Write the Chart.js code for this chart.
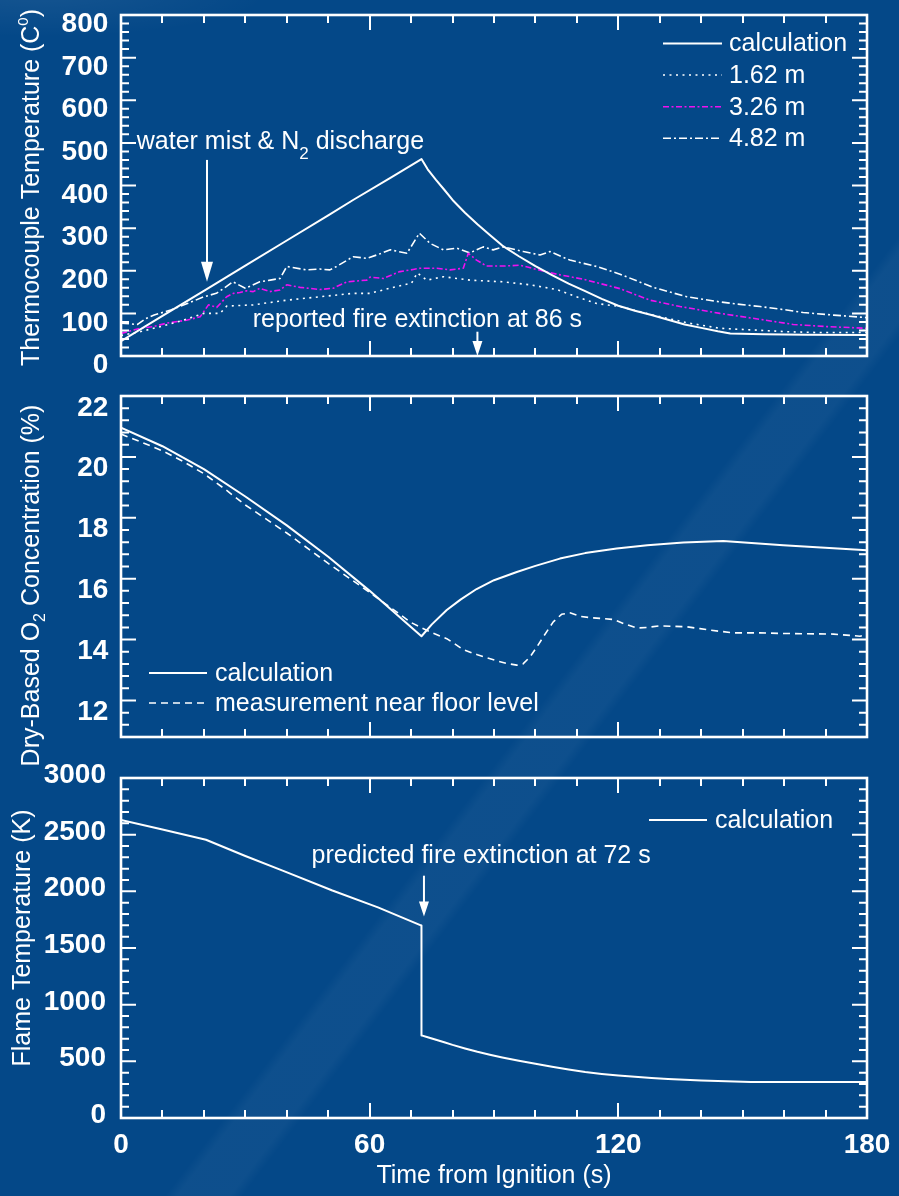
<!DOCTYPE html>
<html><head><meta charset="utf-8">
<script src="https://cdn.jsdelivr.net/npm/chart.js@4.4.1/dist/chart.umd.min.js"></script>
<style>
html,body{margin:0;padding:0;}
body{width:899px;height:1196px;overflow:hidden;position:relative;
background:
 radial-gradient(ellipse 230px 45px at 40px -8px, rgba(255,255,255,0.07), rgba(255,255,255,0) 100%),
 linear-gradient(127.4deg, rgba(255,255,255,0) 0%, rgba(255,255,255,0) 59.5%, rgba(255,255,255,0.04) 60.2%, rgba(255,255,255,0.04) 63.1%, rgba(255,255,255,0) 63.8%, rgba(255,255,255,0) 100%),
 rgb(4,72,136);}
canvas{position:absolute;left:0;top:0;}
</style></head><body>
<canvas id="c1" width="899" height="1196"></canvas>
<canvas id="c2" width="899" height="1196"></canvas>
<canvas id="c3" width="899" height="1196"></canvas>
<script>
// ---------- data ----------
const X_TICKS = [0, 60, 120, 180];
const TC_TICKS = [0, 100, 200, 300, 400, 500, 600, 700, 800];
const O2_TICKS = [12, 14, 16, 18, 20, 22];
const FT_TICKS = [0, 500, 1000, 1500, 2000, 2500, 3000];

// Panel 1: thermocouple temperature (C)
const tcCalcTime = [0, 10, 20, 30, 40, 50, 56, 65, 72.5, 74, 76, 78, 80, 83, 86, 89, 92, 96, 100, 104, 108, 112, 116, 120, 124, 128, 132, 136, 140, 144, 147, 155, 165, 180];
const tcCalcTemp = [35, 94, 153, 212, 271, 330, 366, 418, 462, 438, 413, 390, 366, 336, 309, 284, 259, 234, 211, 190, 170, 152, 134, 118, 106, 96, 85, 74, 66, 58, 53, 51, 50, 49];

const tc162Time = [0, 5, 10, 15, 20, 23.9, 25.5, 31.9, 40, 48, 56, 60, 64.9, 70.1, 71.5, 73.8, 77.8, 84.2, 92.3, 98.7, 105.1, 109.9, 114.8, 120.4, 128.4, 136.5, 144.5, 152.6, 160.6, 168.7, 180];
const tc162Temp = [48, 58, 70, 84, 100, 100, 117, 120, 131, 139, 147, 147, 159, 171, 195, 178, 186, 178, 174, 167, 156, 139, 123, 116, 96, 78, 65, 61, 57, 55, 55];

const tc326Time = [0, 4.6, 7.8, 11, 15.8, 19.1, 21.1, 23.1, 25.5, 27.1, 28.7, 30.3, 31.9, 33.5, 35.9, 38.4, 40, 43.2, 48, 51.2, 54.5, 59.3, 60.1, 63.3, 67.3, 70.5, 72.2, 76.2, 79.4, 82.6, 83.8, 85.8, 88.2, 92.3, 96.3, 100.3, 105.1, 111.6, 120.4, 127.6, 134.9, 144.5, 154.2, 162.2, 170.3, 180];
const tc326Temp = [53, 65, 69, 77, 84, 92, 120, 114, 139, 147, 149, 153, 151, 159, 151, 155, 167, 161, 156, 159, 174, 178, 185, 182, 198, 203, 206, 206, 202, 206, 241, 225, 211, 211, 213, 203, 192, 180, 158, 131, 116, 100, 86, 74, 69, 65];

const tc482Time = [0, 4, 6, 8, 12, 16, 20, 23, 25, 27, 30, 33.5, 36, 38.4, 40, 44.8, 48, 50.4, 52, 56, 59.3, 62, 65, 69, 72, 74.6, 77.8, 81, 84.2, 87.4, 89.8, 92.3, 97.1, 101.1, 103.5, 108.3, 114.8, 120.4, 128.4, 136.5, 144.5, 148.6, 154.2, 160.6, 164.6, 171.9, 180];
const tc482Temp = [77, 74, 88, 96, 108, 123, 139, 147, 160, 174, 159, 174, 178, 182, 210, 202, 204, 202, 210, 233, 229, 238, 249, 241, 288, 264, 249, 253, 242, 256, 249, 256, 245, 237, 245, 225, 210, 192, 161, 139, 127, 122, 116, 108, 102, 96, 90];

// Panel 2: dry-based O2 concentration (%)
const o2CalcTime = [0, 10, 20, 30, 40, 50, 60, 72.5, 75, 78.6, 82, 85.8, 90, 95.5, 100, 105.9, 112, 119.6, 127, 135.7, 145.3, 159.8, 180];
const o2CalcValue = [20.96, 20.35, 19.6, 18.7, 17.75, 16.72, 15.6, 14.11, 14.5, 14.97, 15.32, 15.66, 15.95, 16.22, 16.42, 16.66, 16.84, 16.99, 17.1, 17.19, 17.24, 17.1, 16.93];

const o2MeasTime = [0, 5, 10, 15, 20, 25, 30, 40, 50, 60, 70, 72.6, 74.6, 78.6, 82.6, 86, 90.7, 93, 95.5, 97, 98.7, 100.3, 101.9, 104.3, 106.3, 108.3, 110.8, 113.2, 116.4, 118.8, 121.2, 124.4, 127, 130.1, 136.5, 139.7, 142.1, 147.8, 154.2, 159.8, 171.9, 178.3, 180];
const o2MeasValue = [20.75, 20.48, 20.2, 19.85, 19.45, 18.95, 18.42, 17.5, 16.5, 15.55, 14.56, 14.38, 14.25, 14.03, 13.67, 13.5, 13.3, 13.22, 13.16, 13.2, 13.43, 13.75, 14.09, 14.58, 14.83, 14.88, 14.76, 14.72, 14.69, 14.66, 14.53, 14.38, 14.4, 14.45, 14.42, 14.36, 14.31, 14.22, 14.22, 14.2, 14.18, 14.11, 14.17];

// Panel 3: flame temperature (K)
const flameTime = [0, 10, 20.5, 30, 39, 51, 62, 72.5, 72.5, 74, 76, 78, 80, 83, 86, 89, 92, 96, 100, 104, 108, 112, 116, 120, 124, 128, 132, 136, 140, 144, 148, 152, 160, 180];
const flameTemp = [2630, 2545, 2455, 2312, 2183, 2007, 1858, 1698, 729, 712, 690, 668, 645, 614, 584, 558, 534, 505, 478, 453, 428, 405, 388, 374, 363, 354, 345, 337, 331, 326, 321, 318, 317, 317];

// ---------- helpers ----------
const FONT = '"Liberation Sans", Arial, Helvetica, sans-serif';
const WHITE = '#ffffff';
const MAGENTA = '#f010f0';
const pts = (t, v) => t.map((x, i) => ({x: x, y: v[i]}));

function drawRich(ctx, parts, x, y, align) {
  let total = 0;
  const widths = parts.map(p => { ctx.font = p.size + 'px ' + FONT; const w = ctx.measureText(p.text).width; total += w; return w; });
  let cx = align === 'center' ? x - total / 2 : (align === 'right' ? x - total : x);
  ctx.textAlign = 'left';
  ctx.textBaseline = 'alphabetic';
  parts.forEach((p, i) => { ctx.font = p.size + 'px ' + FONT; ctx.fillText(p.text, cx, y + (p.dy || 0)); cx += widths[i]; });
}

function arrow(ctx, x, y0, y1, headLen, headW) {
  ctx.beginPath();
  ctx.moveTo(x, y0); ctx.lineTo(x, y1 - headLen + 1);
  ctx.stroke();
  ctx.beginPath();
  ctx.moveTo(x, y1); ctx.lineTo(x - headW / 2, y1 - headLen); ctx.lineTo(x + headW / 2, y1 - headLen); ctx.closePath();
  ctx.fill();
}

function makeDecor(d) {
  return {
    id: 'decor_' + d.name,
    afterDraw(chart) {
      const ctx = chart.ctx, a = chart.chartArea, xs = chart.scales.x, ys = chart.scales.y;
      ctx.save();
      ctx.strokeStyle = WHITE; ctx.fillStyle = WHITE;
      ctx.lineWidth = 2;
      ctx.beginPath();
      for (let i = 0; i <= 18; i++) {
        const v = i * 10;
        const px = Math.round(xs.getPixelForValue(v));
        const len = X_TICKS.includes(v) ? 15 : 8;
        ctx.moveTo(px, a.bottom); ctx.lineTo(px, a.bottom - len);
        ctx.moveTo(px, a.top); ctx.lineTo(px, a.top + len);
      }
      const n = Math.round((ys.max - ys.min) / d.minorStep);
      for (let i = 0; i <= n; i++) {
        const v = ys.min + i * d.minorStep;
        const major = d.ticks.some(t => Math.abs(t - v) < 1e-6);
        const py = ys.getPixelForValue(v);
        const len = major ? 15 : 8;
        ctx.moveTo(a.left, py); ctx.lineTo(a.left + len, py);
        ctx.moveTo(a.right, py); ctx.lineTo(a.right - len, py);
      }
      ctx.stroke();
      ctx.lineWidth = 2.6;
      ctx.strokeRect(a.left, a.top, a.right - a.left, a.bottom - a.top);

      ctx.save();
      ctx.translate(d.yTitle.x, d.yTitle.y);
      ctx.rotate(-Math.PI / 2);
      drawRich(ctx, d.yTitle.parts, 0, 0, 'center');
      ctx.restore();

      const L = d.legend;
      chart.data.datasets.forEach((ds, i) => {
        const y = L.rows[i];
        ctx.save();
        ctx.strokeStyle = ds.borderColor; ctx.lineWidth = ds.borderWidth;
        ctx.setLineDash(ds.borderDash || []);
        ctx.beginPath(); ctx.moveTo(L.x0, y); ctx.lineTo(L.x1, y); ctx.stroke();
        ctx.restore();
        ctx.font = '25px ' + FONT; ctx.textAlign = 'left'; ctx.textBaseline = 'middle';
        ctx.fillText(ds.label, L.tx, y + 1);
      });

      (d.notes || []).forEach(nt => {
        drawRich(ctx, nt.parts, xs.getPixelForValue(nt.t), ys.getPixelForValue(nt.v), nt.align);
      });
      ctx.lineWidth = 2;
      (d.arrows || []).forEach(ar => {
        arrow(ctx, xs.getPixelForValue(ar.t), ys.getPixelForValue(ar.from), ys.getPixelForValue(ar.to), ar.head, ar.w);
      });
      ctx.restore();
    }
  };
}

function makeChart(id, cfg) {
  return new Chart(document.getElementById(id), {
    type: 'line',
    data: { datasets: cfg.datasets },
    options: {
      responsive: false, animation: false, devicePixelRatio: 1,
      layout: { padding: cfg.padding },
      plugins: { legend: { display: false }, tooltip: { enabled: false } },
      elements: { point: { radius: 0 }, line: { borderJoinStyle: 'round', tension: 0 } },
      scales: {
        x: {
          type: 'linear', min: 0, max: 180, display: cfg.showX,
          afterBuildTicks: s => { s.ticks = X_TICKS.map(v => ({ value: v })); },
          afterFit: s => { s.height = cfg.xHeight; s.paddingLeft = 0; s.paddingRight = 0; },
          grid: { display: false, drawTicks: false }, border: { display: false },
          ticks: { color: WHITE, padding: 10, maxRotation: 0, autoSkip: false, font: { family: FONT, size: 28, weight: 'bold' }, callback: v => String(v) },
          title: { display: cfg.showX, text: 'Time from Ignition (s)', color: WHITE, font: { family: FONT, size: 25 }, padding: { top: 0, bottom: 5 } }
        },
        y: {
          type: 'linear', min: cfg.ymin, max: cfg.ymax,
          afterBuildTicks: s => { s.ticks = cfg.ticks.map(v => ({ value: v })); },
          afterFit: s => { s.width = 121; s.paddingTop = 0; s.paddingBottom = 0; },
          grid: { display: false, drawTicks: false }, border: { display: false },
          ticks: { color: WHITE, padding: cfg.labelPad, labelOffset: cfg.labelOffset, autoSkip: false, font: { family: FONT, size: 28, weight: 'bold' }, callback: v => String(v) }
        }
      }
    },
    plugins: [makeDecor(cfg.decor)]
  });
}

// ---------- panel 1 ----------
makeChart('c1', {
  padding: { top: 15, right: 32, bottom: 1196 - 356, left: 0 },
  showX: false, xHeight: 0, ymin: 0, ymax: 800, ticks: TC_TICKS, labelPad: 12.7, labelOffset: 9.5,
  datasets: [
    { label: 'calculation', data: pts(tcCalcTime, tcCalcTemp), borderColor: WHITE, borderWidth: 2 },
    { label: '1.62 m', data: pts(tc162Time, tc162Temp), borderColor: WHITE, borderWidth: 1.6, borderDash: [2, 4.5] },
    { label: '3.26 m', data: pts(tc326Time, tc326Temp), borderColor: MAGENTA, borderWidth: 1.6, borderDash: [6, 2.5, 2, 2.5] },
    { label: '4.82 m', data: pts(tc482Time, tc482Temp), borderColor: WHITE, borderWidth: 1.6, borderDash: [8, 3, 2, 3] }
  ],
  decor: {
    name: 'p1', minorStep: 20, ticks: TC_TICKS,
    yTitle: { x: 38.5, y: 187.5, parts: [{ text: 'Thermocouple Temperature (C', size: 25 }, { text: '0', size: 15, dy: -11 }, { text: ')', size: 25 }] },
    legend: { x0: 663, x1: 722, tx: 729, rows: [43.5, 75, 106.7, 138.3] },
    notes: [
      { t: 3.8, v: 486, align: 'left', parts: [{ text: 'water mist & N', size: 25 }, { text: '2', size: 17, dy: 10 }, { text: ' discharge', size: 25 }] },
      { t: 71.5, v: 69, align: 'center', parts: [{ text: 'reported fire extinction at 86 s', size: 25 }] }
    ],
    arrows: [
      { t: 20.75, from: 460, to: 174, head: 20, w: 12 },
      { t: 86, from: 57, to: 0, head: 15, w: 10 }
    ]
  }
});

// ---------- panel 2 ----------
makeChart('c2', {
  padding: { top: 396, right: 32, bottom: 1196 - 737, left: 0 },
  showX: false, xHeight: 0, ymin: 10.8, ymax: 22, ticks: O2_TICKS, labelPad: 12.7, labelOffset: 11.8,
  datasets: [
    { label: 'calculation', data: pts(o2CalcTime, o2CalcValue), borderColor: WHITE, borderWidth: 2 },
    { label: 'measurement near floor level', data: pts(o2MeasTime, o2MeasValue), borderColor: WHITE, borderWidth: 1.6, borderDash: [7, 5] }
  ],
  decor: {
    name: 'p2', minorStep: 0.4, ticks: O2_TICKS,
    yTitle: { x: 38.5, y: 585.5, parts: [{ text: 'Dry-Based O', size: 25 }, { text: '2', size: 16, dy: 6 }, { text: ' Concentration (%)', size: 25 }] },
    legend: { x0: 149, x1: 207, tx: 215, rows: [673, 703] }
  }
});

// ---------- panel 3 ----------
makeChart('c3', {
  padding: { top: 778, right: 32, bottom: 0, left: 0 },
  showX: true, xHeight: 78, ymin: 0, ymax: 3000, ticks: FT_TICKS, labelPad: 15, labelOffset: -2.7,
  datasets: [
    { label: 'calculation', data: pts(flameTime, flameTemp), borderColor: WHITE, borderWidth: 2 }
  ],
  decor: {
    name: 'p3', minorStep: 100, ticks: FT_TICKS,
    yTitle: { x: 30, y: 938, parts: [{ text: 'Flame Temperature (K)', size: 25 }] },
    legend: { x0: 649, x1: 707, tx: 715, rows: [820] },
    notes: [
      { t: 86.9, v: 2246, align: 'center', parts: [{ text: 'predicted fire extinction at 72 s', size: 25 }] }
    ],
    arrows: [
      { t: 73.1, from: 2138, to: 1777, head: 15, w: 10 }
    ]
  }
});
</script>
</body></html>
